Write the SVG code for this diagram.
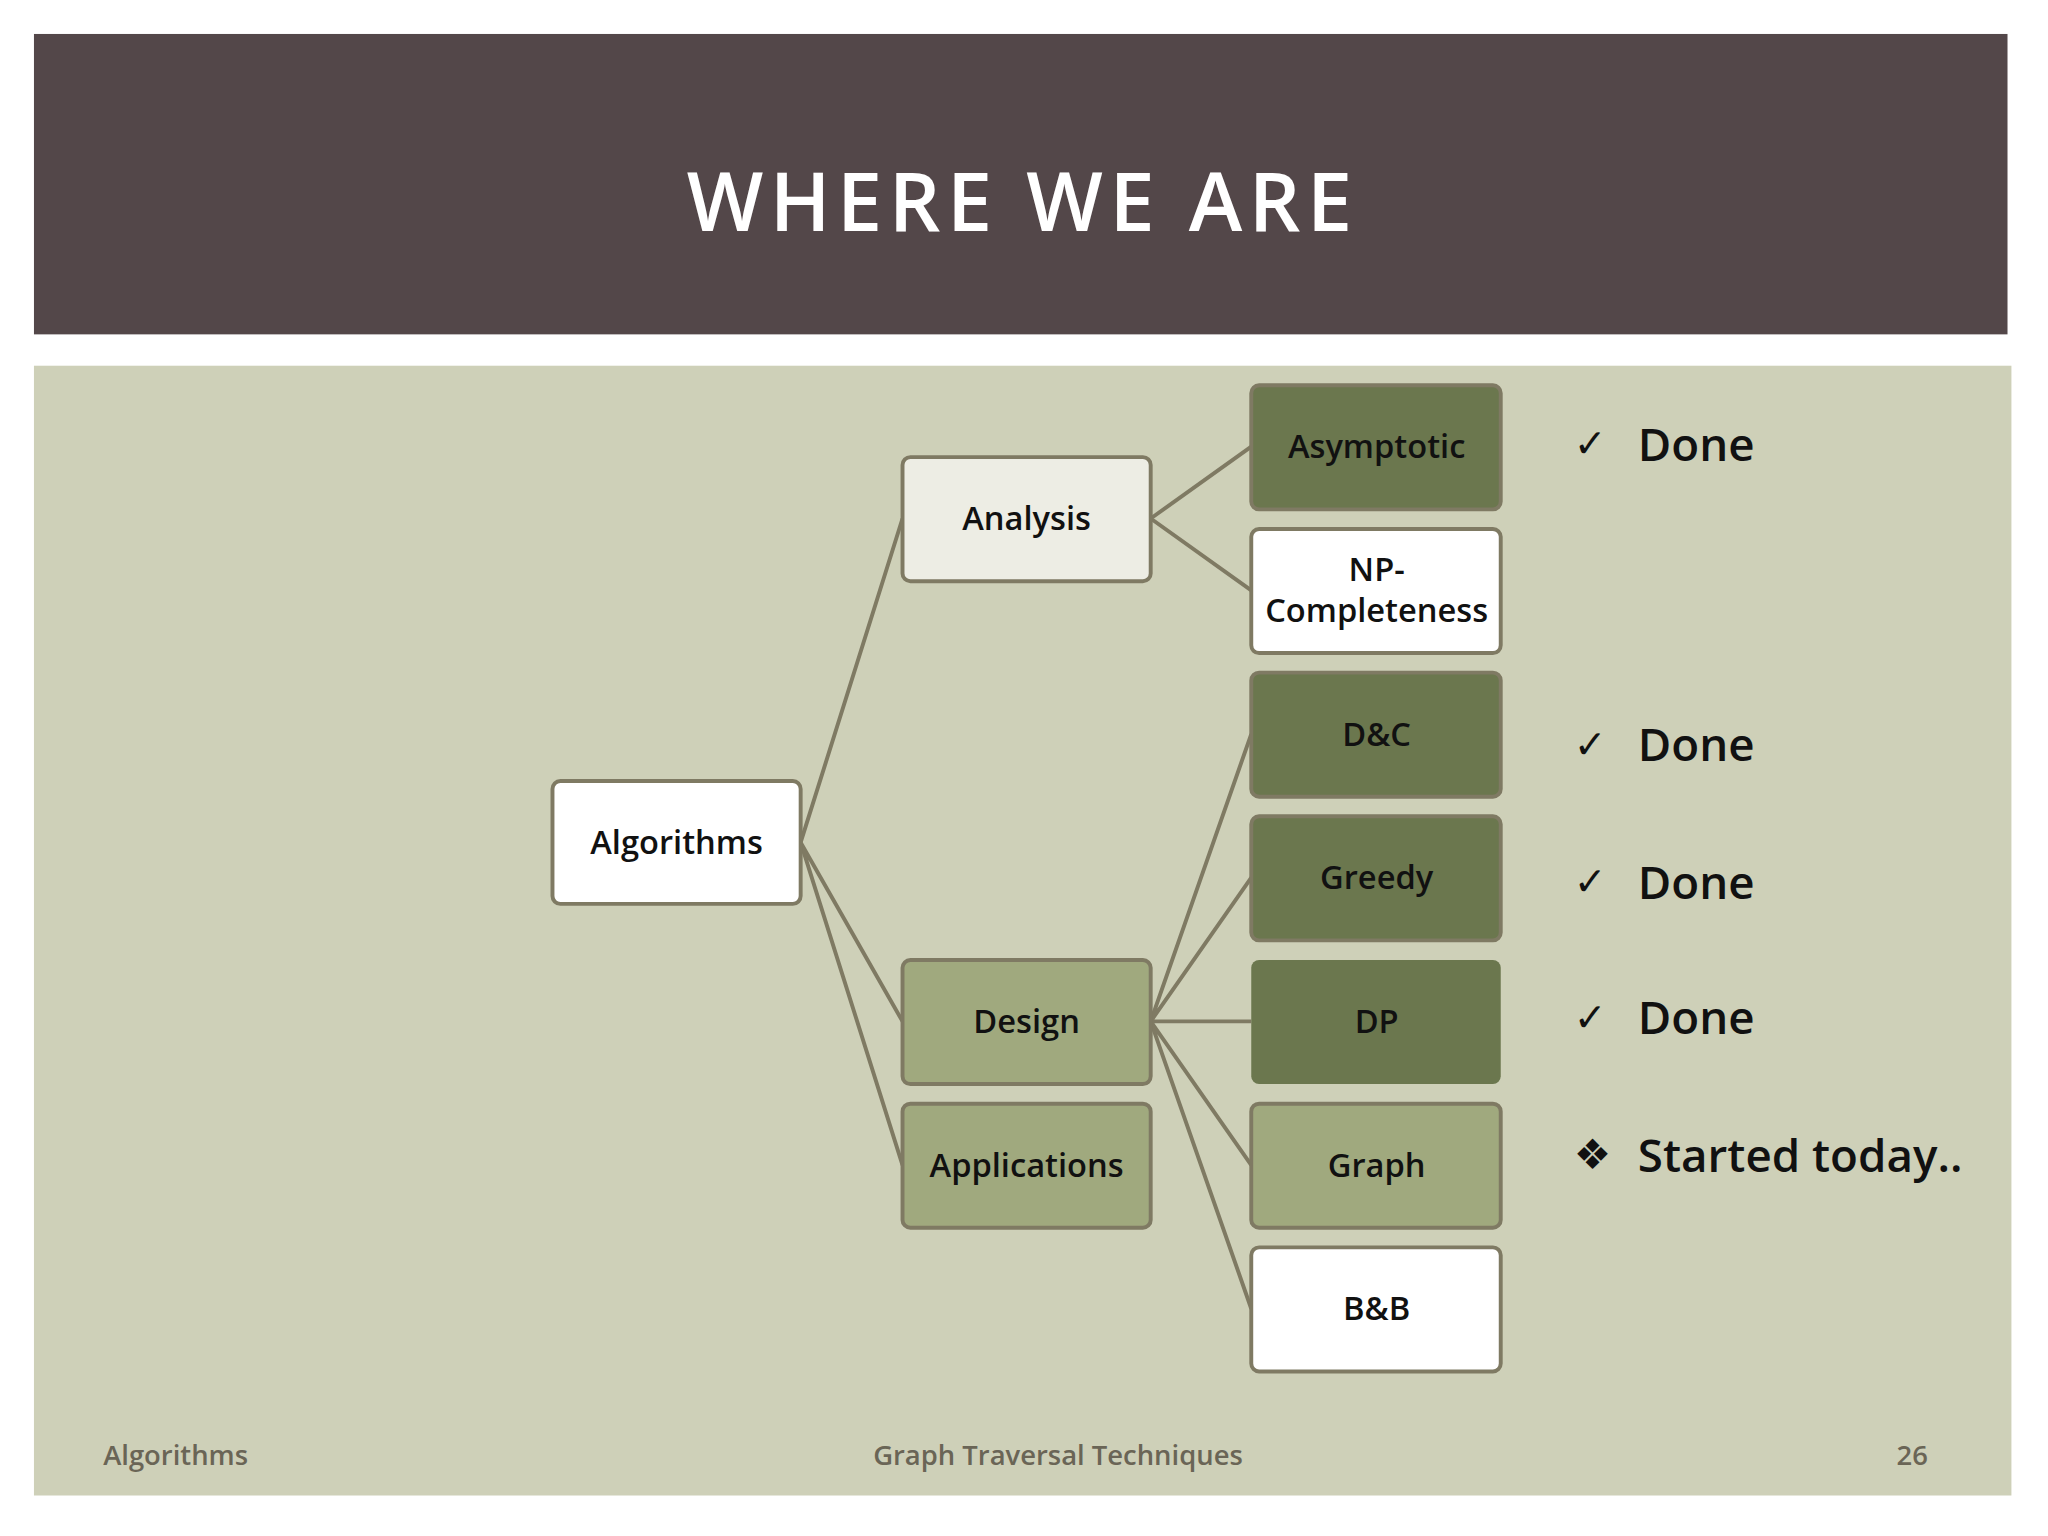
<svg xmlns="http://www.w3.org/2000/svg" width="2048" height="1536" viewBox="0 0 2048 1536">
<style>
.n{stroke:#7f7a63;stroke-width:3}
.t{font-family:"Open Sans","Liberation Sans",sans-serif;font-weight:600;font-size:25px;fill:#111;text-anchor:middle}
.c{stroke:#7f7a63;stroke-width:3;fill:none}
.r{font-family:"Open Sans","Liberation Sans",sans-serif;font-weight:600;font-size:35px;fill:#111}
.f{font-family:"Open Sans","Liberation Sans",sans-serif;font-weight:600;font-size:21px;fill:#6a6556}
</style>
<rect width="2048" height="1536" fill="#fff"/>
<g transform="scale(1.30612)">
<rect x="26" y="26" width="1511" height="230" fill="#534749"/>
<text x="783" y="177" font-family="'Open Sans','Liberation Sans',sans-serif" font-weight="600" font-size="62" fill="#fff" text-anchor="middle" letter-spacing="5">WHERE WE ARE</text>
<rect x="26" y="280" width="1514" height="865" fill="#ced0b8"/>
<g id="connectors">
<path class="c" d="M613 645L691 397M613 645L691 782M613 645L691 892M881 397L958 342M881 397L958 452M881 782L958 562M881 782L958 672M881 782L958 782M881 782L958 892M881 782L958 1002"/>
</g>
<g id="algorithms"><rect class="n" x="423" y="598" width="190" height="94" rx="6" fill="#fff"/><text class="t" x="518" y="654">Algorithms</text></g>
<g id="analysis"><rect class="n" x="691" y="350" width="190" height="95" rx="6" fill="#ededE4"/><text class="t" x="786" y="406">Analysis</text></g>
<g id="design"><rect class="n" x="691" y="735" width="190" height="95" rx="6" fill="#a0a97e"/><text class="t" x="786" y="791">Design</text></g>
<g id="applications"><rect class="n" x="691" y="845" width="190" height="95" rx="6" fill="#a0a97e"/><text class="t" x="786" y="901">Applications</text></g>
<g id="asymptotic"><rect class="n" x="958" y="295" width="191" height="95" rx="6" fill="#6b774e"/><text class="t" x="1054" y="351">Asymptotic</text></g>
<g id="np"><rect class="n" x="958" y="405" width="191" height="95" rx="6" fill="#fff"/><text class="t" x="1054" y="445">NP-</text><text class="t" x="1054" y="476">Completeness</text></g>
<g id="dc"><rect class="n" x="958" y="515" width="191" height="95" rx="6" fill="#6b774e"/><text class="t" x="1054" y="571">D&amp;C</text></g>
<g id="greedy"><rect class="n" x="958" y="625" width="191" height="95" rx="6" fill="#6b774e"/><text class="t" x="1054" y="681">Greedy</text></g>
<g id="dp"><rect x="958" y="735" width="191" height="95" rx="6" fill="#6b774e"/><text class="t" x="1054" y="791">DP</text></g>
<g id="graph"><rect class="n" x="958" y="845" width="191" height="95" rx="6" fill="#a0a97e"/><text class="t" x="1054" y="901">Graph</text></g>
<g id="bb"><rect class="n" x="958" y="955" width="191" height="95" rx="6" fill="#fff"/><text class="t" x="1054" y="1011">B&amp;B</text></g>
<text x="1205" y="350" font-family="'DejaVu Sans',sans-serif" font-size="30" fill="#111">✓</text><text class="r" x="1254" y="353">Done</text>
<text x="1205" y="580" font-family="'DejaVu Sans',sans-serif" font-size="30" fill="#111">✓</text><text class="r" x="1254" y="583">Done</text>
<text x="1205" y="685" font-family="'DejaVu Sans',sans-serif" font-size="30" fill="#111">✓</text><text class="r" x="1254" y="688">Done</text>
<text x="1205" y="789" font-family="'DejaVu Sans',sans-serif" font-size="30" fill="#111">✓</text><text class="r" x="1254" y="792">Done</text>
<text x="1205" y="895" font-family="'DejaVu Sans',sans-serif" font-size="32" fill="#111">❖</text><text class="r" x="1254" y="897">Started today..</text>
<text class="f" x="79" y="1122">Algorithms</text>
<text class="f" x="810" y="1122" text-anchor="middle">Graph Traversal Techniques</text>
<text class="f" x="1476" y="1122" text-anchor="end">26</text>
</g>
</svg>
